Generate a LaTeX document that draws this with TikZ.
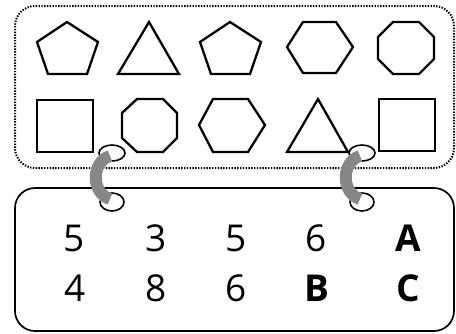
\documentclass[tikz,border=0pt]{standalone}
\usepackage{fontspec}
\setmainfont{Open Sans}
\begin{document}
\begin{tikzpicture}[x=1pt,y=-1pt,
  shp/.style={line width=2.3pt,line join=miter},
  ring/.style={line width=1.6pt},
  hook/.style={line width=12pt,draw={rgb,255:red,135;green,135;blue,135},line cap=butt},
  num/.style={font=\fontsize{37}{37}\selectfont,anchor=center,inner sep=0pt},
  bnum/.style={num,font=\fontsize{37}{37}\selectfont\bfseries}]
\useasboundingbox (0,0) rectangle (456,333);
% top dotted box
\draw[line width=2pt,dash pattern=on 1.4pt off 1.4pt,rounded corners=20pt] (15,6) rectangle (454,168);
% bottom solid box
\draw[line width=1.7pt,rounded corners=20pt] (15,188) rectangle (454,331);
% row 1
\draw[shp] (67,22) -- (98,42) -- (87,74) -- (48,74) -- (37,42) -- cycle;
\draw[shp] (149,22) -- (179,74) -- (118,74) -- cycle;
\draw[shp] (230,22) -- (261,42) -- (250,74) -- (211,74) -- (200,42) -- cycle;
\draw[shp] (287,47) -- (303,22) -- (336,22) -- (353,47) -- (336,73) -- (303,73) -- cycle;
\draw[shp] (393,22) -- (419,22) -- (434,37) -- (434,59) -- (419,74) -- (393,74) -- (378,59) -- (378,37) -- cycle;
% row 2
\draw[shp] (37,100) rectangle (93,152);
\draw[shp] (137,99) -- (163,99) -- (177,113) -- (177,138) -- (163,152) -- (137,152) -- (122,138) -- (122,113) -- cycle;
\draw[shp] (199,125) -- (213,99) -- (248,99) -- (265,125) -- (248,152) -- (213,152) -- cycle;
\draw[shp] (318,99) -- (348,152) -- (287,152) -- cycle;
\draw[shp] (379,99) rectangle (435,151);
% rings
\foreach \dx in {0,250}{
  \draw[ring] (112+\dx,153) ellipse [x radius=13, y radius=8];
  \draw[ring] (112+\dx,202) ellipse [x radius=12, y radius=9];
  \draw[hook] (110+\dx,156) .. controls (91+\dx,162) and (91+\dx,193) .. (110+\dx,199);
}
% numbers
\node[num] (n11) at (74,238.5) {5};
\node[num] (n12) at (156,238.5) {3};
\node[num] (n13) at (236,238.5) {5};
\node[num] (n14) at (316,238.5) {6};
\node[bnum] (n15) at (408,238.5) {A};
\node[num] (n21) at (75,288) {4};
\node[num] (n22) at (156,288) {8};
\node[num] (n23) at (236,288) {6};
\node[bnum] (n24) at (317,288) {B};
\node[bnum] (n25) at (408,288) {C};
\end{tikzpicture}
\end{document}
